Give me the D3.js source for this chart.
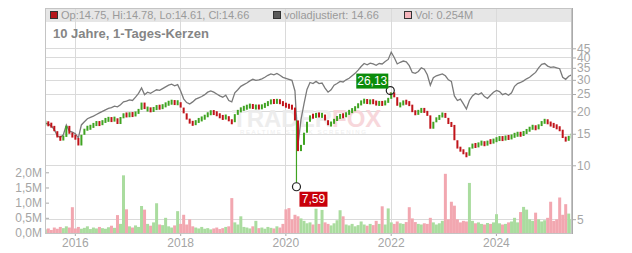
<!DOCTYPE html>
<html>
<head>
<meta charset="utf-8">
<script src="https://cdn.jsdelivr.net/npm/d3@7"></script>
<style>
  html, body { margin: 0; padding: 0; background: #fff; }
  svg { display: block; font-family: "Liberation Sans", Arial, sans-serif; }
</style>
</head>
<body>
<svg id="chart" width="632" height="253"></svg>
<script>
// ---------------------------------------------------------------------------
// Data (one point roughly every three weeks)
// ---------------------------------------------------------------------------

const startDate = new Date(2015, 5, 10);
const endDate = new Date(2025, 5, 10);

// close price
const closes = [
  17.2, 16.9, 16.6, 15.5, 14.3, 14.0, 14.4, 16.6, 15.0, 14.5,
  14.2, 12.9, 14.8, 16.0, 16.2, 16.4, 17.0, 17.2, 17.0, 17.6,
  18.0, 18.1, 17.9, 18.3, 17.0, 18.6, 19.2, 19.0, 19.3, 19.1,
  19.6, 20.4, 22.4, 20.6, 20.6, 20.2, 20.8, 21.2, 21.0, 21.5,
  22.0, 22.4, 22.6, 22.2, 22.5, 21.0, 19.5, 18.0, 17.3, 17.0,
  17.6, 18.0, 18.3, 18.8, 19.5, 19.8, 19.6, 19.2, 18.6, 18.4,
  18.8, 17.6, 17.4, 19.3, 20.2, 20.6, 21.0, 21.2, 21.6, 21.0,
  21.3, 21.0, 21.4, 21.8, 22.4, 22.8, 22.6, 22.9, 22.4, 21.8,
  21.5, 21.2, 21.0, 17.8, 12.0, 13.0, 15.2, 17.5, 19.0, 18.6,
  19.4, 18.8, 19.2, 17.8, 16.8, 17.2, 18.0, 18.5, 19.0, 18.8,
  19.5, 20.0, 20.4, 21.0, 22.0, 22.6, 23.0, 22.4, 22.8, 22.5,
  22.0, 22.3, 22.0, 22.6, 23.5, 25.5, 24.0, 21.5, 22.0, 22.6,
  22.4, 21.8, 19.8, 19.5, 20.0, 20.5, 20.0, 19.0, 16.0, 17.5,
  18.4, 18.6, 19.6, 18.4, 17.0, 16.8, 13.8, 12.4, 12.2, 11.6,
  11.3, 12.6, 13.0, 12.8, 13.2, 13.4, 13.0, 13.6, 13.5, 13.8,
  14.0, 14.2, 14.0, 14.4, 14.2, 14.6, 14.8, 15.0, 14.8, 15.3,
  15.6, 16.2, 16.4, 16.0, 16.8, 17.4, 17.8, 17.2, 16.8, 16.6,
  16.2, 15.8, 14.2, 13.8, 14.5, 14.66
];

// fully adjusted price (grey line)
const adjusted = [
  17.2, 17.0, 16.6, 15.8, 14.6, 14.3, 14.8, 16.8, 15.5, 15.3,
  15.0, 14.2, 16.8, 17.5, 18.2, 18.5, 18.8, 19.2, 19.6, 20.0,
  20.4, 20.8, 21.0, 21.4, 21.2, 21.8, 22.6, 22.8, 23.2, 23.0,
  24.0, 25.2, 27.0, 24.8, 25.6, 25.2, 25.8, 26.4, 26.2, 26.8,
  27.4, 28.0, 28.4, 27.8, 28.2, 26.0, 23.5, 22.4, 22.0, 22.6,
  23.4, 23.8, 24.2, 24.8, 25.6, 26.0, 25.6, 25.0, 24.4, 24.0,
  24.6, 23.0, 22.6, 25.4, 26.4, 27.6, 28.2, 28.8, 29.6, 30.2,
  29.8, 30.0, 30.4, 31.0, 31.8, 32.4, 32.0, 32.6, 31.8, 31.0,
  30.6, 30.2, 29.8, 26.0, 13.0, 18.0, 22.0, 26.5, 29.0, 28.6,
  29.4, 28.6, 28.8, 27.0, 25.6, 26.4, 28.0, 28.6, 29.4, 29.2,
  30.0, 30.6, 31.6, 32.6, 34.0, 35.6, 37.0, 36.4, 37.2, 36.8,
  36.2, 37.0, 36.8, 38.0, 39.0, 42.8, 40.0, 36.8, 37.6, 38.2,
  37.8, 36.0, 33.0, 32.6, 33.4, 35.0, 34.4, 32.0, 28.0, 30.8,
  31.6, 32.0, 32.4, 31.6, 30.0, 29.4, 24.4, 23.0, 23.4, 22.0,
  20.6, 23.0, 24.4, 25.2, 24.8, 25.4, 24.2, 23.6, 24.6, 25.6,
  26.2, 25.8, 24.8, 25.2, 24.6, 25.4, 27.6, 28.6, 29.0, 29.6,
  30.4, 31.0, 32.0, 33.0, 35.0, 36.6, 37.0, 35.8, 35.2, 35.4,
  35.0, 34.6, 31.0, 30.2, 31.4, 32.0
];

// volume in millions
const volumes = [
  0.12, 0.15, 0.10, 0.18, 0.14, 0.20, 0.16, 0.22, 0.18, 0.85,
  0.15, 0.20, 0.14, 0.17, 0.22, 0.13, 0.18, 0.15, 0.20, 0.16,
  0.14, 0.19, 0.24, 0.17, 0.59, 0.30, 1.90, 0.78, 0.22, 0.18,
  0.25, 0.20, 0.89, 0.77, 0.30, 0.24, 0.35, 0.98, 0.28, 0.26,
  0.50, 0.22, 0.18, 0.25, 0.72, 0.30, 0.60, 0.28, 0.45, 0.22,
  0.18, 0.15, 0.20, 0.14, 0.16, 0.12, 0.15, 0.18, 0.13, 0.16,
  0.20, 0.22, 1.15, 0.35, 0.28, 0.55, 0.20, 0.18, 0.15, 0.22,
  0.40, 0.16, 0.18, 0.14, 0.20, 0.17, 0.15, 0.22, 0.18, 0.30,
  0.78, 0.82, 0.45, 0.60, 0.55, 0.48, 0.40, 0.32, 0.35, 0.28,
  0.80, 0.30, 0.76, 0.35, 0.30, 0.25, 0.32, 0.42, 0.75, 0.55,
  0.28, 0.25, 0.30, 0.22, 0.26, 0.38, 0.28, 0.24, 0.30, 0.26,
  0.40, 0.30, 0.88, 0.28, 0.81, 0.35, 0.30, 0.38, 0.32, 0.30,
  0.36, 0.85, 0.48, 0.36, 0.30, 0.28, 0.32, 0.30, 0.50, 0.35,
  0.28, 0.32, 0.40, 1.95, 0.45, 1.03, 0.90, 0.45, 0.35, 0.40,
  0.38, 1.65, 0.40, 0.32, 0.35, 0.30, 0.28, 0.33, 0.30, 0.35,
  0.62, 0.32, 0.28, 0.30, 0.35, 0.38, 0.50, 0.35, 0.69, 0.86,
  0.77, 0.45, 0.40, 0.67, 0.45, 0.38, 0.42, 0.50, 1.03, 0.40,
  0.45, 1.17, 0.60, 0.95, 0.64, 0.45
];

const priceTicks = [5, 10, 15, 20, 25, 30, 35, 40, 45];
const volumeTicks = [0, 0.5, 1.0, 1.5, 2.0];
const yearTicks = [2016, 2018, 2020, 2022, 2024];

const markers = [
  { date: new Date(2021, 11, 29), value: 26.13, label: '26,13', box: '#0b8c0b', wick: '#c0141a', side: 'above' },
  { date: new Date(2020, 2, 18), value: 7.59, label: '7,59', box: '#c8000a', wick: '#3fa321', side: 'below' },
];

const legendItems = [
  { label: 'Op:14.75, Hi:14.78, Lo:14.61, Cl:14.66', color: '#b5161b', x: 50 },
  { label: 'volladjustiert: 14.66', color: '#5a5a5a', x: 273 },
  { label: 'Vol: 0.254M', color: '#f4b4bb', x: 404 },
];

const titleText = '10 Jahre, 1-Tages-Kerzen';

// ---------------------------------------------------------------------------
// Config
// ---------------------------------------------------------------------------

const CFG = {
  left: 45, right: 572, top: 8, headBottom: 22, bottom: 233,
  up: '#3fa321', down: '#c0141a',
  volUp: '#aadc9f', volDown: '#f2a7b0',
  adj: '#7a7a7a', grid: '#dadada', axisText: '#a5a5a5',
  minBody: 5,
};

// build rows (dates spread evenly over the 10 years)
const n = closes.length;
const step = (endDate - startDate) / (n - 1);
const rows = closes.map((c, i) => ({
  date: new Date(+startDate + i * step),
  open: i ? closes[i - 1] : c,
  close: c,
  adj: adjusted[i],
  vol: volumes[i],
}));

// ---------------------------------------------------------------------------
// Scales
// ---------------------------------------------------------------------------

const x = d3.scaleTime()
  .domain([new Date(2015, 5, 8), new Date(2025, 5, 12)])
  .range([CFG.left, CFG.right]);

const y = d3.scaleLog().domain([5, 45]).range([219.2, 48.3]);
const v = d3.scaleLinear().domain([0, 2]).range([CFG.bottom, 172.3]);

const svg = d3.select('#chart');

svg.append('defs').append('clipPath').attr('id', 'plotclip')
  .append('rect')
  .attr('x', CFG.left).attr('y', CFG.headBottom)
  .attr('width', CFG.right - CFG.left).attr('height', CFG.bottom - CFG.headBottom);

// header band
svg.append('rect')
  .attr('x', CFG.left).attr('y', CFG.top)
  .attr('width', CFG.right - CFG.left).attr('height', CFG.headBottom - CFG.top)
  .attr('fill', '#e6e6e6');

// grid
const grid = svg.append('g');
grid.selectAll('.hg').data(priceTicks).enter().append('line')
  .attr('x1', CFG.left).attr('x2', CFG.right)
  .attr('y1', d => Math.round(y(d)) + 0.5).attr('y2', d => Math.round(y(d)) + 0.5)
  .attr('stroke', CFG.grid);
grid.selectAll('.vg').data(yearTicks).enter().append('line')
  .attr('x1', d => Math.round(x(new Date(d, 0, 1))) + 0.5)
  .attr('x2', d => Math.round(x(new Date(d, 0, 1))) + 0.5)
  .attr('y1', CFG.top).attr('y2', CFG.bottom)
  .attr('stroke', CFG.grid);

// title
svg.append('text')
  .attr('x', 53).attr('y', 38)
  .attr('font-size', 13).attr('font-weight', 'bold')
  .attr('fill', '#858585')
  .text(titleText);

// legend in the header
const leg = svg.append('g').selectAll('g').data(legendItems).enter().append('g');
leg.append('rect')
  .attr('x', d => d.x + 0.5).attr('y', 11.5).attr('width', 7).attr('height', 7)
  .attr('fill', d => d.color).attr('stroke', '#333');
leg.append('text')
  .attr('x', d => d.x + 11).attr('y', 19)
  .attr('font-size', 11).attr('fill', '#9a9a9a')
  .text(d => d.label);

// watermark
const wm = svg.append('g').attr('opacity', 0.9);
const wmText = wm.append('text')
  .attr('x', 232).attr('y', 127)
  .attr('font-size', 24).attr('font-weight', 'bold');
wmText.append('tspan').attr('fill', '#ececec').text('TRADER');
wmText.append('tspan').attr('fill', '#f7d3d8').text('FOX');
wm.append('text')
  .attr('x', 240).attr('y', 134)
  .attr('font-size', 6).attr('letter-spacing', 1.6)
  .attr('fill', '#ececec')
  .text('REALTIME STOCK SCREENING');

const plot = svg.append('g').attr('clip-path', 'url(#plotclip)');

// volume bars
plot.append('g').selectAll('rect').data(rows).enter().append('rect')
  .attr('x', d => x(d.date) - 1.5)
  .attr('width', 3)
  .attr('y', d => v(d.vol))
  .attr('height', d => CFG.bottom - v(d.vol))
  .attr('fill', d => d.close >= d.open ? CFG.volUp : CFG.volDown);

// adjusted line
plot.append('path')
  .datum(rows)
  .attr('fill', 'none')
  .attr('stroke', CFG.adj)
  .attr('stroke-width', 1.3)
  .attr('d', d3.line().x(d => x(d.date)).y(d => y(d.adj)));

// marker wicks (extreme highs / lows)
plot.append('g').selectAll('line').data(markers).enter().append('line')
  .attr('x1', d => x(d.date)).attr('x2', d => x(d.date))
  .attr('y1', d => {
    const i = d3.bisector(r => r.date).center(rows, d.date);
    return y(rows[i].close);
  })
  .attr('y2', d => y(d.value) + (d.side === 'above' ? 4 : -4))
  .attr('stroke', d => d.wick).attr('stroke-width', 1.2);

// candles
const bodyTop = d => {
  const hi = y(Math.max(d.open, d.close)), lo = y(Math.min(d.open, d.close));
  return lo - hi < CFG.minBody ? (hi + lo) / 2 - CFG.minBody / 2 : hi;
};
const bodyHeight = d => Math.max(CFG.minBody, y(Math.min(d.open, d.close)) - y(Math.max(d.open, d.close)));

plot.append('g').selectAll('rect').data(rows).enter().append('rect')
  .attr('x', d => x(d.date) - 1)
  .attr('width', 2)
  .attr('y', bodyTop)
  .attr('height', bodyHeight)
  .attr('fill', d => d.close >= d.open ? CFG.up : CFG.down);

// axes
const axisStyle = g => {
  g.select('.domain').remove();
  g.selectAll('line').attr('stroke', '#aaa');
  g.selectAll('text').attr('fill', CFG.axisText).attr('font-size', 12)
    .attr('font-family', '"Liberation Sans", Arial, sans-serif');
};

svg.append('g')
  .attr('transform', `translate(${CFG.right},0)`)
  .call(d3.axisRight(y).tickValues(priceTicks).tickSize(4).tickPadding(1).tickFormat(d3.format('d')))
  .call(axisStyle);

svg.append('g')
  .attr('transform', `translate(${CFG.left},0)`)
  .call(d3.axisLeft(v).tickValues(volumeTicks).tickSize(-4).tickPadding(3)
    .tickFormat(d => d.toFixed(1).replace('.', ',') + 'M'))
  .call(axisStyle);

svg.append('g')
  .attr('transform', `translate(0,${CFG.bottom})`)
  .call(d3.axisBottom(x).tickValues(yearTicks.map(d => new Date(d, 0, 1))).tickSize(3).tickPadding(2)
    .tickFormat(d3.timeFormat('%Y')))
  .call(axisStyle);

// frame
svg.append('rect')
  .attr('x', CFG.left + 0.5).attr('y', CFG.top + 0.5)
  .attr('width', CFG.right - CFG.left - 1).attr('height', CFG.bottom - CFG.top)
  .attr('fill', 'none').attr('stroke', '#c4c4c4');
svg.append('line')
  .attr('x1', CFG.right + 0.5).attr('x2', CFG.right + 0.5)
  .attr('y1', CFG.top).attr('y2', CFG.bottom + 1)
  .attr('stroke', '#aaa');

// annotations
const ann = svg.append('g').selectAll('g').data(markers).enter().append('g');
ann.append('circle')
  .attr('cx', d => x(d.date)).attr('cy', d => y(d.value)).attr('r', 4)
  .attr('fill', 'none').attr('stroke', '#222').attr('stroke-width', 1.2);
ann.append('rect')
  .attr('x', d => d.side === 'above' ? x(d.date) - 34 : x(d.date) + 3)
  .attr('y', d => d.side === 'above' ? y(d.value) - 17 : y(d.value) + 5)
  .attr('width', d => d.side === 'above' ? 32 : 28)
  .attr('height', 15)
  .attr('fill', d => d.box);
ann.append('text')
  .attr('x', d => d.side === 'above' ? x(d.date) - 18 : x(d.date) + 17)
  .attr('y', d => d.side === 'above' ? y(d.value) - 5.5 : y(d.value) + 16.5)
  .attr('text-anchor', 'middle')
  .attr('font-size', 12).attr('fill', '#fff')
  .text(d => d.label);
</script>
</body>
</html>
